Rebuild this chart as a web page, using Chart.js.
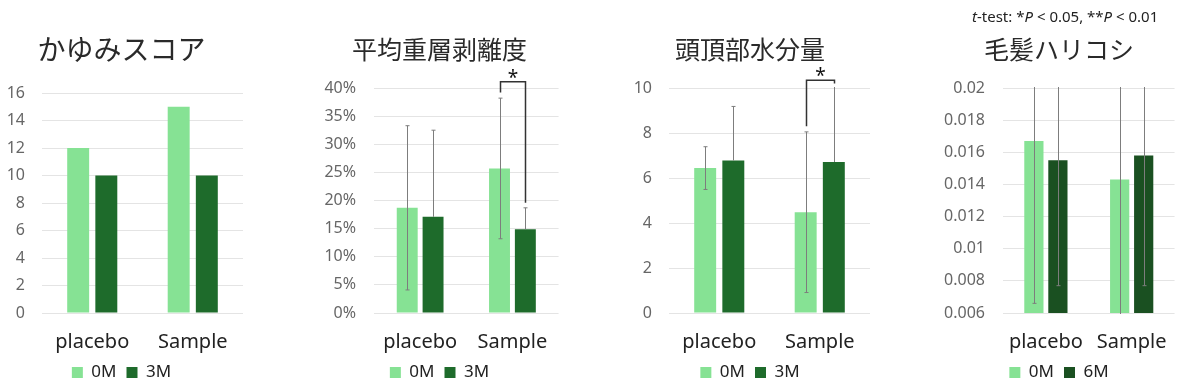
<!DOCTYPE html>
<html>
<head>
<meta charset="utf-8">
<script src="https://cdn.jsdelivr.net/npm/chart.js@4.4.1/dist/chart.umd.min.js"></script>
<style>
  body { margin: 0; background: #fff; width: 1200px; height: 392px; position: relative; overflow: hidden; }
  .box { position: absolute; top: 0; height: 392px; }
  #note { position: absolute; top: 6px; left: 972px; font: 15px "Noto Sans", sans-serif; color: #222; white-space: nowrap; }
</style>
</head>
<body>
<div class="box" style="left:0;width:252px"><canvas id="itch"></canvas></div>
<div class="box" style="left:320px;width:246px"><canvas id="peel"></canvas></div>
<div class="box" style="left:630px;width:246px"><canvas id="water"></canvas></div>
<div class="box" style="left:936px;width:248px"><canvas id="hair"></canvas></div>
<div id="note"><i>t</i>-test: *<i>P</i> &lt; 0.05, **<i>P</i> &lt; 0.01</div>
<script>
// groups on the x axis
const groups = ['placebo', 'Sample'];

// かゆみスコア
const itch0M = [12, 15];
const itch3M = [10, 10];

// 平均重層剥離度 (%)
const peel0M = [18.7, 25.7];
const peel3M = [17.1, 14.9];
const peel0MErr = [14.6, 12.5];
const peel3MErr = [15.4, 3.8];

// 頭頂部水分量
const water0M = [6.44, 4.48];
const water3M = [6.78, 6.71];
const water0MErr = [0.95, 3.57];
const water3MErr = [2.4, 3.6];

// 毛髪ハリコシ
const hair0M = [0.0167, 0.0143];
const hair6M = [0.0155, 0.0158];
const hair0MErr = [0.0101, 0.0090];
const hair6MErr = [0.0078, 0.0081];
const hairTicks = ['0.006', '0.008', '0.01', '0.012', '0.014', '0.016', '0.018', '0.02'];

const LIGHT = '#86e294';
const DARK = '#1e6b2b';
const DARKER = '#1a5021';

// error bars, clipped to the plot area
const errorBars = {
    id: 'errorBars',
    afterDatasetsDraw(chart) {
        const { ctx, chartArea, scales } = chart;
        ctx.save();
        ctx.beginPath();
        ctx.rect(chartArea.left, chartArea.top - 1, chartArea.width, chartArea.height + 2);
        ctx.clip();
        ctx.strokeStyle = '#7d7d7d';
        ctx.lineWidth = 1;
        chart.data.datasets.forEach((ds, i) => {
            if (!ds.errors) return;
            chart.getDatasetMeta(i).data.forEach((bar, j) => {
                const x = Math.round(bar.x) + 0.5;
                const hi = scales.y.getPixelForValue(ds.data[j] + ds.errors[j]);
                const lo = ds.plusOnly ? bar.y : scales.y.getPixelForValue(ds.data[j] - ds.errors[j]);
                ctx.beginPath();
                ctx.moveTo(x, hi); ctx.lineTo(x, lo);
                ctx.moveTo(x - 2, hi); ctx.lineTo(x + 2, hi);
                if (!ds.plusOnly) { ctx.moveTo(x - 2, lo); ctx.lineTo(x + 2, lo); }
                ctx.stroke();
            });
        });
        ctx.restore();
    }
};

// significance bracket between the two bars of one group
const sigBracket = {
    id: 'sigBracket',
    afterDraw(chart, args, opts) {
        if (!opts || opts.group === undefined) return;
        const { ctx, scales } = chart;
        const a = chart.getDatasetMeta(0).data[opts.group];
        const b = chart.getDatasetMeta(1).data[opts.group];
        const x1 = Math.round(a.x) + 0.5, x2 = Math.round(b.x) + 0.5;
        const yTop = scales.y.getPixelForValue(opts.top);
        ctx.save();
        ctx.strokeStyle = '#333';
        ctx.lineWidth = 1.5;
        ctx.beginPath();
        ctx.moveTo(x1, scales.y.getPixelForValue(opts.left));
        ctx.lineTo(x1, yTop);
        ctx.lineTo(x2, yTop);
        ctx.lineTo(x2, scales.y.getPixelForValue(opts.right));
        ctx.stroke();
        ctx.fillStyle = '#111';
        ctx.font = '19px "Noto Sans", sans-serif';
        ctx.textAlign = 'center';
        ctx.textBaseline = 'alphabetic';
        ctx.fillText('*', (x1 + x2) / 2, yTop + 2);
        ctx.restore();
    }
};

function makeChart(id, cfg) {
    const ctx = document.getElementById(id).getContext('2d');
    return new Chart(ctx, {
        type: 'bar',
        data: {
            labels: groups,
            datasets: [
                { label: '0M', data: cfg.first, errors: cfg.firstErr, backgroundColor: LIGHT,
                  categoryPercentage: 0.56, barPercentage: cfg.barPct },
                { label: cfg.secondLabel, data: cfg.second, errors: cfg.secondErr, plusOnly: cfg.secondPlusOnly,
                  backgroundColor: cfg.secondColor, categoryPercentage: 0.56, barPercentage: cfg.barPct }
            ]
        },
        options: {
            responsive: true,
            maintainAspectRatio: false,
            animation: false,
            layout: { padding: { left: 0, right: cfg.padRight, top: 0, bottom: 1 } },
            plugins: {
                title: {
                    display: true,
                    text: cfg.title,
                    color: '#2a2a2a',
                    font: { family: '"Noto Sans CJK JP", sans-serif', size: cfg.titleSize, weight: 'normal' },
                    padding: { top: cfg.titleTop, bottom: cfg.titleGap }
                },
                legend: {
                    position: 'bottom',
                    labels: {
                        boxWidth: 11, boxHeight: 11, padding: 10, color: '#222',
                        font: { family: '"Noto Sans", sans-serif', size: 17 }
                    }
                },
                tooltip: { enabled: false },
                sigBracket: cfg.bracket || {}
            },
            scales: {
                x: {
                    afterFit: scale => { scale.height = 41; },
                    grid: { display: false, drawTicks: false },
                    border: { display: false },
                    ticks: { color: '#222', padding: 17, font: { family: '"Noto Sans", sans-serif', size: 20 } }
                },
                y: {
                    min: cfg.min, max: cfg.max,
                    afterFit: scale => { scale.width = cfg.yWidth; },
                    grid: { color: '#e4e4e4', drawTicks: false },
                    border: { display: false },
                    ticks: {
                        stepSize: cfg.step, padding: cfg.tickPad, color: '#666',
                        font: { family: '"Noto Sans", sans-serif', size: 16 },
                        callback: cfg.tickLabel
                    }
                }
            }
        },
        plugins: [errorBars, sigBracket]
    });
}

makeChart('itch', {
    title: 'かゆみスコア', titleSize: 28, titleTop: 33, titleGap: 26.4,
    first: itch0M, second: itch3M, secondLabel: '3M', secondColor: DARK,
    min: 0, max: 16, step: 2, yWidth: 42, tickPad: 17, padRight: 9, barPct: 0.78,
    tickLabel: v => v
});

makeChart('peel', {
    title: '平均重層剥離度', titleSize: 25, titleTop: 34, titleGap: 24,
    first: peel0M, second: peel3M, firstErr: peel0MErr, secondErr: peel3MErr, secondPlusOnly: true,
    secondLabel: '3M', secondColor: DARK,
    min: 0, max: 40, step: 5, yWidth: 54, tickPad: 18, padRight: 7, barPct: 0.81,
    tickLabel: v => v + '%',
    bracket: { group: 1, top: 41.1, left: 39.2, right: 19.6 }
});

makeChart('water', {
    title: '頭頂部水分量', titleSize: 25, titleTop: 34, titleGap: 24,
    first: water0M, second: water3M, firstErr: water0MErr, secondErr: water3MErr, secondPlusOnly: true,
    secondLabel: '3M', secondColor: DARK,
    min: 0, max: 10, step: 2, yWidth: 39, tickPad: 17, padRight: 6, barPct: 0.78,
    tickLabel: v => v,
    bracket: { group: 1, top: 10.34, left: 8.3, right: 10.2 }
});

makeChart('hair', {
    title: '毛髪ハリコシ', titleSize: 25, titleTop: 34, titleGap: 24,
    first: hair0M, second: hair6M, firstErr: hair0MErr, secondErr: hair6MErr,
    secondLabel: '6M', secondColor: DARKER,
    min: 0.006, max: 0.02, step: 0.002, yWidth: 67, tickPad: 18, padRight: 2, barPct: 0.8,
    tickLabel: (v, i) => hairTicks[i]
});
</script>
</body>
</html>
